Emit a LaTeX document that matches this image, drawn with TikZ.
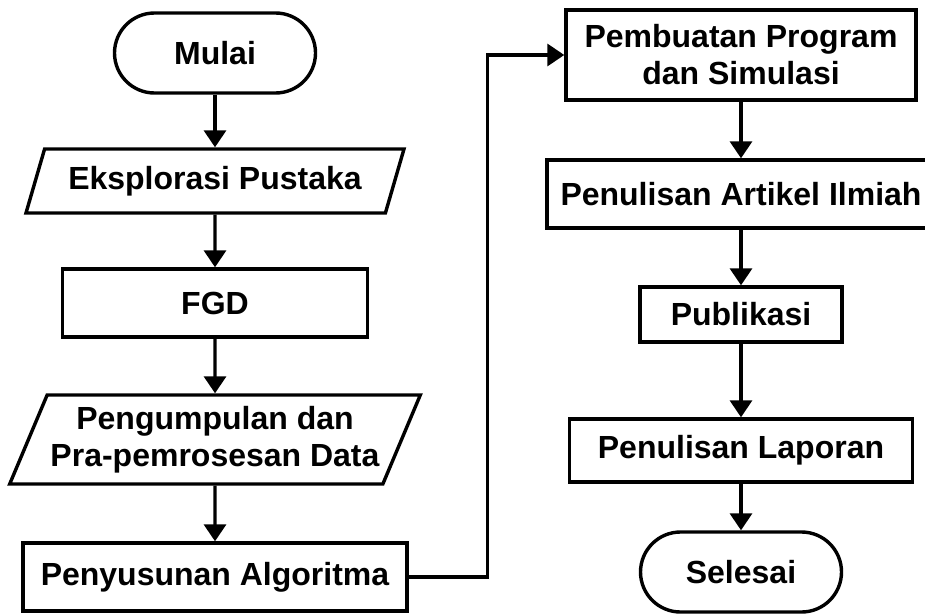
\documentclass[tikz,border=0pt]{standalone}
\usepackage{fontspec}
\setmainfont{Liberation Sans}
\usepackage{tikz}
\usetikzlibrary{arrows.meta, positioning, shapes.geometric}
\tikzset{>={Triangle[width=22pt,length=17pt]}}
\tikzset{
	terminal/.style = {draw, line width=3.4pt, rounded corners=40pt, minimum width=201pt, minimum height=80pt},
	io/.style = {draw, line width=3.4pt, trapezium, trapezium left angle=63, trapezium right angle=117, trapezium stretches body, align=center},
	process/.style = {draw, line width=3.4pt, align=center}
}

\begin{document}
\begin{tikzpicture}[x=1pt, y=-1pt, on grid, font=\fontsize{32}{37}\selectfont\bfseries]
			\useasboundingbox (0,0) rectangle (925,613);
			% kolom kiri
			\node (mulai) [terminal] at (215,53) {Mulai};
			\node (eks) [io, minimum width=378pt, minimum height=64pt, below = 128pt of mulai] {Eksplorasi Pustaka};
			\node (fgd) [process, minimum width=305pt, minimum height=68pt, below = 122pt of eks] {FGD};
			\node (data) [io, minimum width=405pt, minimum height=89pt, below = 136.5pt of fgd] {Pengumpulan dan\\Pra-pemrosesan Data};
			\node (alg) [process, minimum width=384pt, minimum height=68pt, below = 137.5pt of data] {Penyusunan Algoritma};
			% kolom kanan
			\node (prog) [process, minimum width=350pt, minimum height=90pt] at (741,55) {Pembuatan Program\\dan Simulasi};
			\node (artikel) [process, minimum width=388pt, minimum height=68pt, below = 139pt of prog] {Penulisan Artikel Ilmiah};
			\node (publ) [process, minimum width=202pt, minimum height=55pt, below = 120.5pt of artikel] {Publikasi};
			\node (lapor) [process, minimum width=343pt, minimum height=63pt, below = 136pt of publ] {Penulisan Laporan};
			\node (selesai) [terminal, below = 121.5pt of lapor] {Selesai};
			\path[->, line width=3.4pt]
			(mulai) edge (eks)
			(eks) edge (fgd)
			(fgd) edge (data)
			(data) edge (alg)
			(prog) edge (artikel)
			(artikel) edge (publ)
			(publ) edge (lapor)
			(lapor) edge (selesai);
			\draw[->, line width=3.4pt] (alg.east) -- ++(79pt,0) |- (prog.west);
\end{tikzpicture}
\end{document}
